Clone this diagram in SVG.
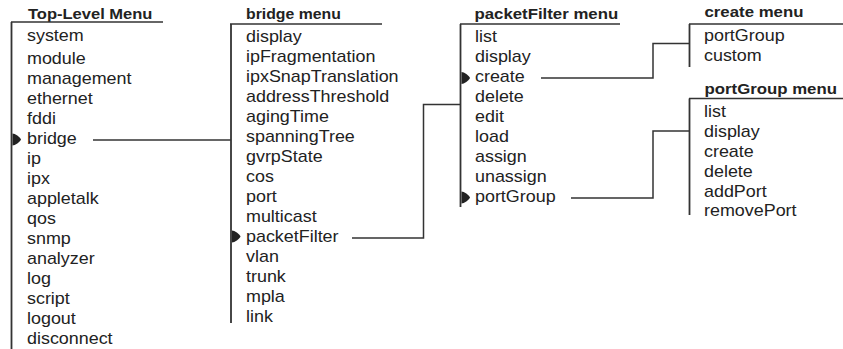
<svg xmlns="http://www.w3.org/2000/svg" xmlns:xlink="http://www.w3.org/1999/xlink" width="843" height="349" viewBox="0 0 843 349">
<style>
.t{font-family:"Liberation Sans",Arial,sans-serif;font-size:16px;fill:#222}
.h{font-family:"Liberation Sans",Arial,sans-serif;font-size:14px;font-weight:bold;fill:#222}
.ln{stroke:#333;stroke-width:1.5;fill:none}
.col{stroke:#333;stroke-width:1.8;fill:none}
.mk{fill:#222}
</style>
<defs>
<path id="mk" d="M0,-6 C2.5,-6 7.5,-2.5 8.5,0 C7.5,2.5 2.5,6 0,6 Z"/>
</defs>
<rect width="843" height="349" fill="#fff"/>

<g id="top-level-menu">
<text class="h" transform="translate(28,18.5) scale(1.18,1)">Top-Level Menu</text>
<path class="ln" d="M11,22 H163"/>
<path class="col" d="M11.5,22 V349"/>
<use href="#mk" xlink:href="#mk" class="mk" x="12.5" y="139.5"/>
<g transform="translate(27,0) scale(1.12,1)">
<text class="t" y="41.5">system</text>
<text class="t" y="64">module</text>
<text class="t" y="84">management</text>
<text class="t" y="104">ethernet</text>
<text class="t" y="124">fddi</text>
<text class="t" y="144">bridge</text>
<text class="t" y="164">ip</text>
<text class="t" y="184">ipx</text>
<text class="t" y="204">appletalk</text>
<text class="t" y="224">qos</text>
<text class="t" y="244">snmp</text>
<text class="t" y="264">analyzer</text>
<text class="t" y="284">log</text>
<text class="t" y="304">script</text>
<text class="t" y="324">logout</text>
<text class="t" y="344">disconnect</text>
</g>
</g>

<g id="bridge-menu">
<text class="h" transform="translate(246,19) scale(1.13,1)">bridge menu</text>
<path class="ln" d="M230,24 H382"/>
<path class="col" d="M231,24 V323"/>
<use href="#mk" xlink:href="#mk" class="mk" x="232" y="236.5"/>
<g transform="translate(246,0) scale(1.12,1)">
<text class="t" y="42">display</text>
<text class="t" y="62">ipFragmentation</text>
<text class="t" y="82">ipxSnapTranslation</text>
<text class="t" y="102">addressThreshold</text>
<text class="t" y="122">agingTime</text>
<text class="t" y="142">spanningTree</text>
<text class="t" y="162">gvrpState</text>
<text class="t" y="182">cos</text>
<text class="t" y="202">port</text>
<text class="t" y="222">multicast</text>
<text class="t" y="242">packetFilter</text>
<text class="t" y="262">vlan</text>
<text class="t" y="282">trunk</text>
<text class="t" y="302">mpla</text>
<text class="t" y="322">link</text>
</g>
</g>

<g id="packetfilter-menu">
<text class="h" transform="translate(474.5,19) scale(1.2,1)">packetFilter menu</text>
<path class="ln" d="M460,24 H620"/>
<path class="col" d="M460.5,24 V207"/>
<use href="#mk" xlink:href="#mk" class="mk" x="461.5" y="78"/>
<use href="#mk" xlink:href="#mk" class="mk" x="461.5" y="197.5"/>
<g transform="translate(475,0) scale(1.12,1)">
<text class="t" y="42">list</text>
<text class="t" y="62">display</text>
<text class="t" y="82">create</text>
<text class="t" y="102">delete</text>
<text class="t" y="122">edit</text>
<text class="t" y="142">load</text>
<text class="t" y="162">assign</text>
<text class="t" y="182">unassign</text>
<text class="t" y="202">portGroup</text>
</g>
</g>

<g id="create-menu">
<text class="h" transform="translate(704.5,17) scale(1.2,1)">create menu</text>
<path class="ln" d="M689,24 H843"/>
<path class="col" d="M689.5,24 V67"/>
<g transform="translate(704,0) scale(1.12,1)">
<text class="t" y="41">portGroup</text>
<text class="t" y="61">custom</text>
</g>
</g>

<g id="portgroup-menu">
<text class="h" transform="translate(704.5,94) scale(1.2,1)">portGroup menu</text>
<path class="ln" d="M689,98.5 H843"/>
<path class="col" d="M689.5,98.5 V215"/>
<g transform="translate(704,0) scale(1.12,1)">
<text class="t" y="117">list</text>
<text class="t" y="137">display</text>
<text class="t" y="157">create</text>
<text class="t" y="177">delete</text>
<text class="t" y="197">addPort</text>
<text class="t" y="216">removePort</text>
</g>
</g>

<g id="connectors">
<path class="ln" d="M93,140 H231"/>
<path class="ln" d="M352,238 H423.5 V104.5 H460"/>
<path class="ln" d="M541,78 H653 V43.5 H689"/>
<path class="ln" d="M571,198 H653 V131 H689"/>
</g>
</svg>
